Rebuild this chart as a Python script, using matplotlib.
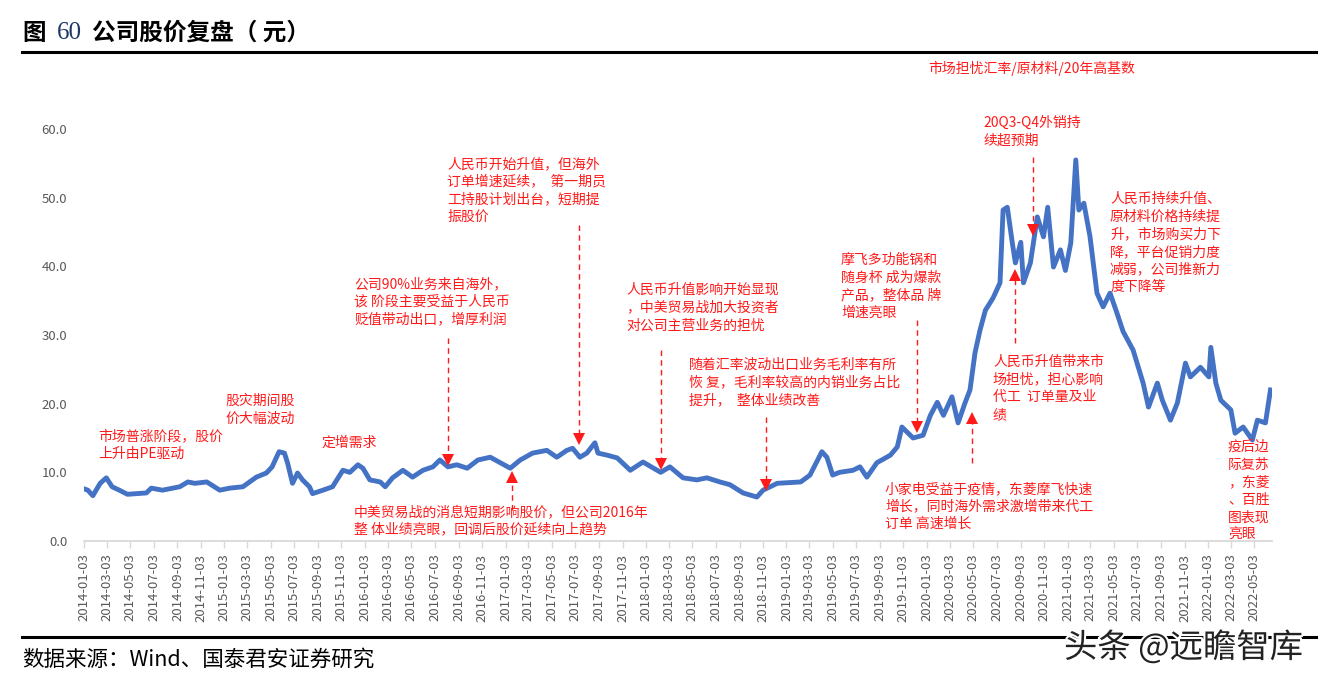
import matplotlib
matplotlib.use("Agg")
import matplotlib.pyplot as plt
import matplotlib.patheffects as pe
import pandas as pd

plt.rcParams['font.family'] = ['Noto Sans CJK SC', 'DejaVu Sans']

# ---- data: price series (元) ----
dates = [
    "2014-01-03", "2014-01-13", "2014-01-26", "2014-02-14", "2014-03-02", "2014-03-17", "2014-04-05", "2014-04-26",
    "2014-06-14", "2014-06-27", "2014-07-26", "2014-09-09", "2014-09-30", "2014-10-18", "2014-11-18", "2014-12-22",
    "2015-01-17", "2015-02-20", "2015-03-27", "2015-04-22", "2015-05-07", "2015-05-25", "2015-06-08", "2015-06-16",
    "2015-06-29", "2015-07-12", "2015-07-25", "2015-08-12", "2015-08-20", "2015-09-16", "2015-10-11", "2015-11-07",
    "2015-11-25", "2015-12-16", "2015-12-29", "2016-01-16", "2016-02-12", "2016-02-25", "2016-03-15", "2016-04-11",
    "2016-05-06", "2016-06-02", "2016-06-28", "2016-07-16", "2016-08-06", "2016-08-29", "2016-09-25", "2016-10-23",
    "2016-11-24", "2016-12-20", "2017-01-15", "2017-02-10", "2017-03-14", "2017-04-20", "2017-05-16", "2017-06-11",
    "2017-06-26", "2017-07-15", "2017-08-02", "2017-08-23", "2017-08-31", "2017-09-24", "2017-10-20", "2017-11-23",
    "2017-12-26", "2018-02-10", "2018-03-06", "2018-04-09", "2018-05-15", "2018-06-10", "2018-07-14", "2018-08-09",
    "2018-09-12", "2018-10-18", "2018-11-03", "2018-12-10", "2019-02-09", "2019-03-05", "2019-04-05", "2019-04-18",
    "2019-05-03", "2019-05-21", "2019-06-25", "2019-07-13", "2019-07-31", "2019-08-26", "2019-09-30", "2019-10-18",
    "2019-10-30", "2019-11-28", "2019-12-24", "2020-01-12", "2020-01-30", "2020-02-15", "2020-03-08", "2020-03-24",
    "2020-04-11", "2020-04-24", "2020-05-07", "2020-05-20", "2020-06-03", "2020-06-23", "2020-07-11", "2020-07-19",
    "2020-07-30", "2020-08-12", "2020-08-20", "2020-09-03", "2020-09-10", "2020-09-28", "2020-10-16", "2020-11-01",
    "2020-11-12", "2020-11-27", "2020-12-15", "2020-12-28", "2021-01-11", "2021-01-24", "2021-02-01", "2021-02-14",
    "2021-03-02", "2021-03-20", "2021-04-05", "2021-04-23", "2021-05-11", "2021-05-27", "2021-06-22", "2021-07-18",
    "2021-08-01", "2021-08-24", "2021-09-06", "2021-09-27", "2021-10-15", "2021-11-05", "2021-11-18", "2021-12-14",
    "2022-01-05", "2022-01-10", "2022-01-23", "2022-02-05", "2022-03-03", "2022-03-14", "2022-04-04", "2022-04-28",
    "2022-05-11", "2022-06-01", "2022-06-14",
]
prices = [
    7.6, 7.4, 6.6, 8.4, 9.2, 7.9, 7.4, 6.8,
    7.0, 7.7, 7.4, 7.9, 8.6, 8.4, 8.6, 7.4,
    7.7, 7.9, 9.3, 9.9, 10.8, 13.0, 12.8, 11.4,
    8.4, 9.9, 8.9, 7.9, 6.9, 7.4, 7.9, 10.3,
    10.0, 11.1, 10.6, 8.9, 8.6, 7.9, 9.2, 10.3,
    9.3, 10.3, 10.8, 11.8, 10.8, 11.1, 10.6, 11.8,
    12.2, 11.4, 10.6, 11.8, 12.8, 13.2, 12.2, 13.2,
    13.5, 12.2, 12.8, 14.3, 12.8, 12.5, 12.1, 10.3,
    11.5, 10.0, 10.8, 9.2, 8.9, 9.2, 8.6, 8.2,
    7.0, 6.4, 7.4, 8.4, 8.6, 9.6, 13.0, 12.2,
    9.6, 10.0, 10.3, 10.8, 9.3, 11.4, 12.5, 13.7,
    16.6, 15.0, 15.4, 18.3, 20.2, 18.3, 21.0, 17.2,
    20.1, 22.0, 27.4, 30.7, 33.6, 35.4, 37.6, 48.2,
    48.6, 43.4, 40.5, 43.5, 37.6, 40.5, 47.2, 44.3,
    48.6, 39.9, 42.4, 39.4, 43.4, 55.5, 48.2, 49.2,
    44.3, 36.1, 34.1, 36.1, 33.2, 30.5, 27.8, 23.0,
    19.5, 23.0, 20.5, 17.6, 20.1, 25.9, 23.9, 25.3,
    23.9, 28.2, 23.0, 20.5, 19.1, 15.7, 16.6, 14.7,
    17.6, 17.2, 22.0,
]

tick_labels = [f"{y}-{m:02d}-03" for y in range(2014, 2023) for m in (1, 3, 5, 7, 9, 11)
               if not (y == 2022 and m > 5)]
yticks = [0, 10, 20, 30, 40, 50, 60]

# annotations: (text, x_px, y_px_top)
notes = [
    ("市场普涨阶段，股价\n上升由PE驱动", 98, 429),
    ("股灾期间股\n价大幅波动", 225, 394),
    ("定增需求", 322, 436),
    ("公司90%业务来自海外，\n该 阶段主要受益于人民币\n贬值带动出口，增厚利润", 354, 277),
    ("人民币开始升值，但海外\n订单增速延续，  第一期员\n工持股计划出台，短期提\n振股价", 447, 157),
    ("中美贸易战的消息短期影响股价，但公司2016年\n整 体业绩亮眼，回调后股价延续向上趋势", 354, 505),
    ("人民币升值影响开始显现\n，中美贸易战加大投资者\n对公司主营业务的担忧", 626, 283),
    ("随着汇率波动出口业务毛利率有所\n恢 复，毛利率较高的内销业务占比\n提升，  整体业绩改善", 689, 358),
    ("摩飞多功能锅和\n随身杯 成为爆款\n产品，整体品 牌\n增速亮眼", 841, 253),
    ("小家电受益于疫情，东菱摩飞快速\n增长，同时海外需求激增带来代工\n订单 高速增长", 885, 482),
    ("市场担忧汇率/原材料/20年高基数", 928, 61),
    ("20Q3-Q4外销持\n续超预期", 983, 116),
    ("人民币升值带来市\n场担忧，担心影响\n代工  订单量及业\n绩", 993, 355),
    ("人民币持续升值、\n原材料价格持续提\n升，市场购买力下\n降，平台促销力度\n减弱，公司推新力\n度下降等", 1110, 192),
    ("疫后边\n际复苏\n，东菱\n、百胜\n图表现\n亮眼", 1228, 440),
]
# arrows: (date, tail value, tip value)
arrows = [
    ("2016-08-06", 29.5, 11.8),
    ("2017-07-12", 46.0, 14.8),
    ("2017-01-20", 4.5, 9.3),
    ("2018-02-12", 27.8, 11.2),
    ("2018-11-12", 18.0, 8.2),
    ("2019-12-09", 32.2, 16.6),
    ("2020-04-29", 11.4, 17.9),
    ("2020-10-04", 55.9, 45.3),
    ("2020-08-20", 28.8, 38.7),
]

W, H = 1333, 683
fig = plt.figure(figsize=(W / 100, H / 100), dpi=100)
fig.patch.set_facecolor("white")

def fx(x):
    return x / W

def fy(y):
    return 1 - y / H

ax = fig.add_axes([fx(84), fy(541), fx(1272) - fx(84), fy(129) - fy(541)])
d = pd.to_datetime(dates)
ax.plot(d, prices, color="#4472C4", lw=3.5, solid_joinstyle="round", zorder=3)

ax.set_ylim(0, 60)
ax.set_xlim(pd.Timestamp("2014-01-03"), pd.Timestamp("2022-06-18"))
ax.set_yticks(yticks)
ax.set_yticklabels([f"{v:.1f}" for v in yticks], color="#595959", fontsize=9.5)
tpos = pd.to_datetime(tick_labels)
ax.set_xticks(tpos)
ax.set_xticklabels(tick_labels, rotation=90, color="#595959", fontsize=9.5)
ax.tick_params(axis="y", length=0, pad=12)
ax.tick_params(axis="x", length=5, color="#d9d9d9", width=1, pad=4)
for s in ("left", "right", "top"):
    ax.spines[s].set_visible(False)
ax.spines["bottom"].set_color("#d9d9d9")
ax.spines["bottom"].set_linewidth(1.3)

red = "#FF1A1A"
for txt, x, y in notes:
    fig.text(fx(x), fy(y), txt, color=red, fontsize=10, ha="left", va="top", linespacing=1.33)

for dt, tail, tip in arrows:
    t = pd.Timestamp(dt)
    ax.plot([t, t], [tail, tip], color=red, lw=1, ls=(0, (4, 3)), zorder=4, clip_on=False)
    ax.plot([t], [tip], marker="v" if tip < tail else "^", color=red, ms=8.5, zorder=5,
            clip_on=False, markeredgewidth=0)

# title and rules
fig.text(fx(22), fy(33), "图", fontsize=17, fontweight="bold", ha="left", va="center")
fig.text(fx(57), fy(33), "60", fontsize=18, family="Liberation Serif", color="#1F3864",
         ha="left", va="center")
fig.text(fx(92), fy(33), "公司股价复盘（ 元）", fontsize=17, fontweight="bold", ha="left", va="center")
fig.add_artist(plt.Line2D([fx(22), fx(1316)], [fy(52), fy(52)], color="black", lw=2.2))
fig.add_artist(plt.Line2D([fx(22), fx(1316)], [fy(637), fy(637)], color="black", lw=2.2))
fig.text(fx(22), fy(660), "数据来源：Wind、国泰君安证券研究", fontsize=15.5, ha="left", va="center")
fig.text(fx(1064), fy(648), "头条 @远瞻智库", fontsize=24, ha="left", va="center", color="#222222",
         path_effects=[pe.withStroke(linewidth=3, foreground="white")])

fig.savefig("out.png", dpi=100, facecolor="white")
